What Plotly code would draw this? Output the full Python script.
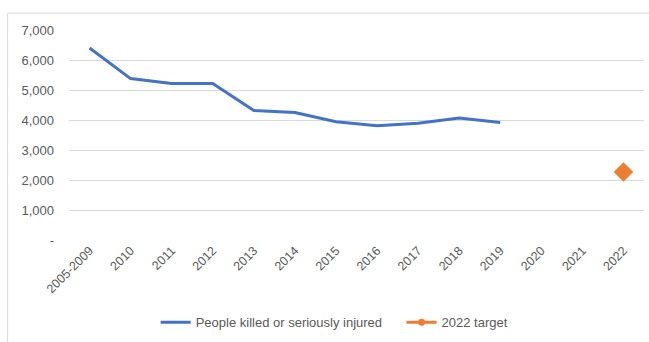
import plotly.graph_objects as go

categories = ["2005-2009", "2010", "2011", "2012", "2013", "2014", "2015",
              "2016", "2017", "2018", "2019", "2020", "2021", "2022"]
ksi_values = [6400, 5380, 5220, 5220, 4320, 4250, 3940, 3810, 3890, 4070, 3920,
              None, None, None]
target_categories = ["2022"]
target_values = [2270]
ytick_vals = [0, 1000, 2000, 3000, 4000, 5000, 6000, 7000]
ytick_text = ["-", "1,000", "2,000", "3,000", "4,000", "5,000", "6,000", "7,000"]

FONT = "Liberation Sans, Arial, sans-serif"
GREY = "#595959"
ORANGE = "#ED7D31"

fig = go.Figure()
fig.add_trace(go.Scatter(
    x=categories, y=ksi_values, mode="lines",
    name="People killed or seriously injured" + "\u00a0" * 4,
    line=dict(color="#4472C4", width=3),
))
fig.add_trace(go.Scatter(
    x=target_categories, y=target_values, mode="markers",
    name="2022 target", showlegend=False,
    marker=dict(symbol="diamond", size=15, color=ORANGE),
))
# legend entry (Excel style: line with small marker)
fig.add_trace(go.Scatter(
    x=[None], y=[None], mode="lines+markers",
    name="2022 target",
    line=dict(color=ORANGE, width=3),
    marker=dict(symbol="circle", size=7, color=ORANGE),
))

L, R, T, B = 68.5, 4.5, 30, 100
W, H = 649, 342
pw = W - L - R
ph = H - T - B

fig.update_layout(
    width=W, height=H,
    margin=dict(l=L, r=R, t=T, b=B, pad=0),
    paper_bgcolor="white", plot_bgcolor="white",
    font=dict(family=FONT, size=13, color=GREY),
    showlegend=True,
    legend=dict(orientation="h", x=0.462, xanchor="center",
                y=(242 - 325) / ph, yanchor="middle",
                font=dict(size=13, color=GREY),
                itemwidth=30, tracegroupgap=0),
    hovermode=False,
    shapes=[dict(type="rect", xref="paper", yref="paper",
                 x0=(7 - L) / pw, x1=(W + 5 - L) / pw,
                 y0=-(H + 5 - T - ph) / ph - 1, y1=1 + (T - 13) / ph,
                 line=dict(color="#d9d9d9", width=1), layer="below")],
)
fig.update_xaxes(
    type="category", categoryorder="array", categoryarray=categories,
    range=[-0.5, len(categories) - 0.5],
    tickangle=-45, tickfont=dict(size=12.5, color=GREY),
    showgrid=False, showline=False, zeroline=False, ticks="",
)
fig.update_yaxes(
    range=[0, 7000], tickvals=ytick_vals, ticktext=ytick_text,
    tickfont=dict(size=13, color=GREY),
    showgrid=True, gridcolor="#d9d9d9", gridwidth=1,
    zeroline=False, showline=False, ticks="", ticklabelstandoff=14,
)

fig.write_html("out.html")
